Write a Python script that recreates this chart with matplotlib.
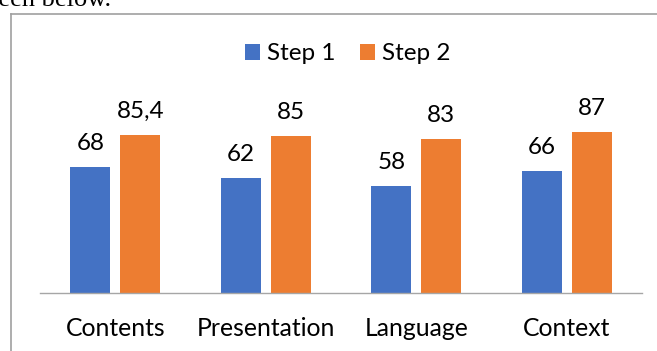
import matplotlib.pyplot as plt
from matplotlib.lines import Line2D
import numpy as np

categories = ['Contents', 'Presentation', 'Language', 'Context']
step1 = [68, 62, 58, 66]
step2 = [85.4, 85, 83, 87]
step1_labels = ['68', '62', '58', '66']
step2_labels = ['85,4', '85', '83', '87']

blue = '#4472C4'
orange = '#ED7D31'
plt.rcParams['font.family'] = ['Lato', 'DejaVu Sans']

fig = plt.figure(figsize=(6.57, 3.51), dpi=100)
ax = fig.add_axes([40 / 657, 58 / 351, 602 / 657, 185 / 351])

x = np.arange(len(categories))
w = 40 / 150.5
off = 25 / 150.5
b1 = ax.bar(x - off, step1, w, color=blue, label='Step 1')
b2 = ax.bar(x + off, step2, w, color=orange, label='Step 2')

for bars, labels in ((b1, step1_labels), (b2, step2_labels)):
    for rect, lab in zip(bars, labels):
        ax.annotate(lab, (rect.get_x() + rect.get_width() / 2, rect.get_height()),
                    xytext=(0, 13), textcoords='offset pixels',
                    ha='center', va='bottom', fontsize=17.5, color='#000000')

ax.set_xlim(-0.5, len(categories) - 0.5)
ax.set_ylim(0, 100)
ax.set_xticks(x)
ax.set_xticklabels(categories, fontsize=17.8)
ax.tick_params(axis='x', length=0, pad=17)
ax.set_yticks([])
for s in ('top', 'right', 'left'):
    ax.spines[s].set_visible(False)
ax.spines['bottom'].set_color('#a6a6a6')
ax.spines['bottom'].set_linewidth(1)

ax.legend(loc='center', bbox_to_anchor=(348 / 657, 1 - 54 / 351), bbox_transform=fig.transFigure,
          ncol=2, frameon=False, fontsize=17.5, handlelength=0.6, handleheight=0.6,
          handletextpad=0.3, columnspacing=1.0)

# chart frame (only top and left visible in the crop)
fig.add_artist(Line2D([11 / 657, 11 / 657], [0, 1 - 14 / 351], color='#a0a0a0', lw=1.2))
fig.add_artist(Line2D([11 / 657, 1], [1 - 14 / 351, 1 - 14 / 351], color='#a0a0a0', lw=1.2))

# cut-off document text above the chart
fig.text(-12 / 657, 1 - 6 / 351, 'seen below.', family='Liberation Serif', fontsize=19,
         va='baseline', ha='left')

fig.savefig('out.png', dpi=100)
